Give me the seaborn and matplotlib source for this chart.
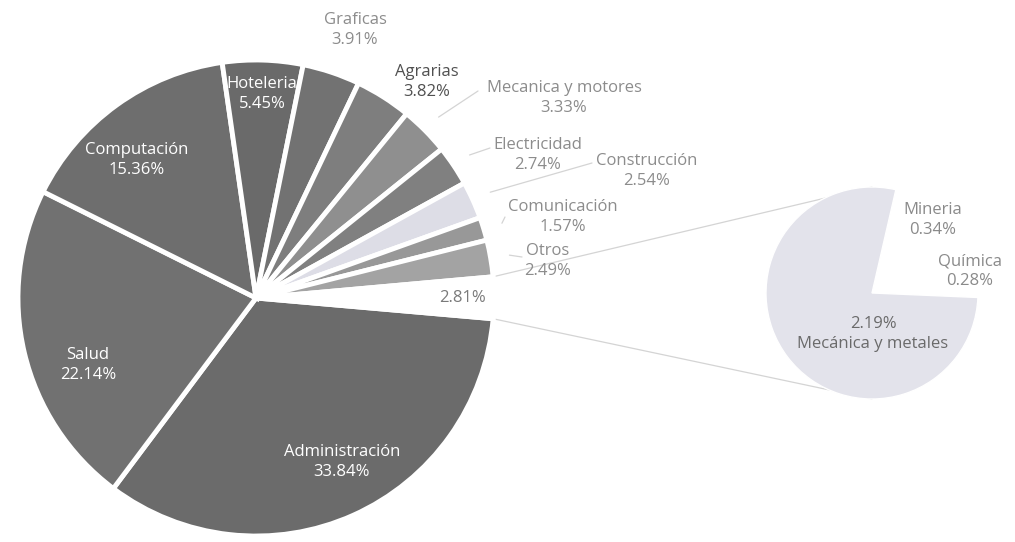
import numpy as np
import matplotlib.pyplot as plt
import seaborn as sns

# Datos del grafico principal (porcentaje de estudiantes por area)
areas = ["Administración", "Salud", "Computación", "Hoteleria", "Graficas", "Agrarias",
         "Mecanica y motores", "Electricidad", "Construcción", "Comunicación", "Otros", "Resto"]
porcentajes = [33.84, 22.14, 15.36, 5.45, 3.91, 3.82, 3.33, 2.74, 2.54, 1.57, 2.49, 2.81]
colores = ["#6b6b6b", "#717171", "#6e6e6e", "#6a6a6a", "#727272", "#7e7e7e",
           "#8f8f8f", "#808080", "#dddde6", "#989898", "#a3a3a3", "#ffffff"]
separacion = [0.025, 0.015, 0, 0, 0, 0, 0, 0, 0, 0, 0, 0]

# Datos del grafico secundario (desglose de "Resto")
areas_sec = ["Mineria", "Química", "Mecánica y metales"]
porcentajes_sec = [0.34, 0.28, 2.19]
colores_sec = ["#ffffff", "#ffffff", "#e3e3eb"]

sns.set_theme(style="white")
plt.rcParams["font.family"] = ["Open Sans", "DejaVu Sans"]

W, H = 1015, 542
fig = plt.figure(figsize=(W / 100, H / 100), dpi=100)
ax = fig.add_axes([0, 0, 1, 1])

# posiciones en pixeles (y hacia abajo)
c1, r1 = (256, H - 298), 238
c2, r2 = (872, H - 293), 106

wedges, _ = ax.pie(porcentajes, colors=colores, explode=separacion, startangle=-5,
                   counterclock=False, center=c1, radius=r1,
                   wedgeprops=dict(edgecolor="white", linewidth=3.5))
wedges2, _ = ax.pie(porcentajes_sec, colors=colores_sec, startangle=77,
                    counterclock=False, center=c2, radius=r2,
                    wedgeprops=dict(edgecolor="white", linewidth=1))

ax.set_xlim(0, W)
ax.set_ylim(0, H)
ax.set_aspect("equal")
ax.axis("off")

# lineas de conexion entre ambos graficos
resto = wedges[-1]
for ang, ysec in [(resto.theta2, c2[1] + r2), (resto.theta1, c2[1] - r2)]:
    a = np.deg2rad(ang)
    x0, y0 = c1[0] + r1 * np.cos(a), c1[1] + r1 * np.sin(a)
    ax.plot([x0, c2[0]], [y0, ysec], color="#d4d4d4", lw=0.9, zorder=0)

pos_main = {
    "Administración": (342, 462), "Salud": (88, 365), "Computación": (137, 160),
    "Hoteleria": (262, 94), "Graficas": (355, 30), "Agrarias": (427, 82),
    "Mecanica y motores": (564, 98), "Electricidad": (538, 155),
    "Construcción": (647, 171), "Comunicación": (563, 217), "Otros": (548, 261),
    "Resto": (463, 298),
}
guias = {
    "Mecanica y motores": (478, 91), "Electricidad": (490, 148),
    "Construcción": (592, 163), "Comunicación": (505, 217), "Otros": (522, 257),
}
internos = ["Administración", "Salud", "Computación", "Hoteleria"]

for w, nombre, val in zip(wedges, areas, porcentajes):
    x, y = pos_main[nombre]
    if nombre == "Resto":
        txt, col = f"{val:.2f}%", "#7a7a7a"
    else:
        txt = f"{nombre}\n{val:.2f}%"
        col = "white" if nombre in internos else ("#505050" if nombre == "Agrarias" else "#8c8c8c")
    ax.text(x, H - y, txt, ha="center", va="center", fontsize=12, color=col,
            linespacing=1.3)
    if nombre in guias:
        a = np.deg2rad((w.theta1 + w.theta2) / 2)
        x0, y0 = c1[0] + r1 * 1.08 * np.cos(a), c1[1] + r1 * 1.08 * np.sin(a)
        gx, gy = guias[nombre]
        ax.plot([x0, gx], [y0, H - gy], color="#d4d4d4", lw=0.9)

pos_sec = {"Mineria": (933, 220), "Química": (970, 271), "Mecánica y metales": (873, 334)}
for nombre, val in zip(areas_sec, porcentajes_sec):
    x, y = pos_sec[nombre]
    if nombre == "Mecánica y metales":
        txt, col = f"{val:.2f}%\n{nombre}", "#6a6a6a"
    else:
        txt, col = f"{nombre}\n{val:.2f}%", "#8a8a8a"
    ax.text(x, H - y, txt, ha="center", va="center", fontsize=12, color=col,
            linespacing=1.3)

fig.savefig("out.png", dpi=100)
